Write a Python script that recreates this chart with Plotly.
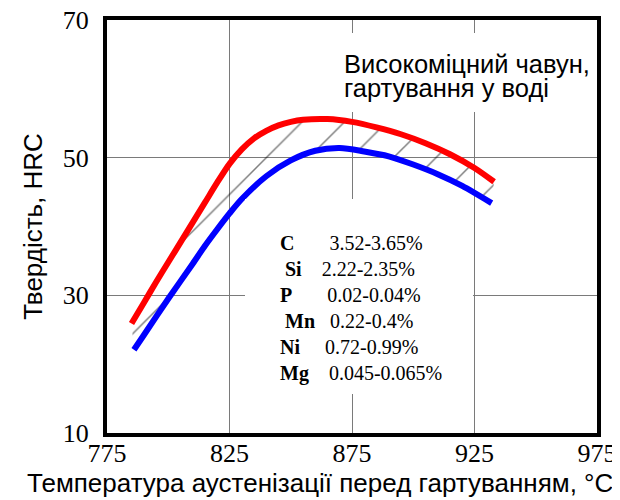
import plotly.graph_objects as go

# Upper curve (red) and lower curve (blue): hardness HRC vs austenitizing temperature, °C
temp_red = [785, 790, 795, 800, 805, 810, 815, 820, 825, 830, 835, 840, 845, 850, 855, 865, 875, 885, 895, 905, 915, 925, 933]
hrc_red = [25.9, 28.9, 31.9, 34.8, 37.7, 40.6, 43.5, 46.4, 49.1, 51.2, 52.8, 53.9, 54.7, 55.2, 55.5, 55.6, 55.2, 54.4, 53.4, 52.1, 50.5, 48.5, 46.5]

temp_blue = [786, 790, 800, 810, 815, 820, 825, 830, 840, 850, 860, 870, 880, 890, 900, 910, 920, 932]
hrc_blue = [22.1, 24.2, 29.5, 34.6, 37.2, 39.6, 41.9, 44.0, 47.3, 49.6, 51.0, 51.4, 50.9, 50.2, 49.0, 47.6, 45.9, 43.4]

x_ticks = [775, 825, 875, 925, 975]
y_ticks = [10, 30, 50, 70]

title_lines = ["Високоміцний чавун,", "гартування у воді"]
x_title = "Температура аустенізації перед гартуванням, °C"
y_title = "Твердість, HRC"
elements = ["C", "Si", "P", "Mn", "Ni", "Mg"]
ranges = ["3.52-3.65%", "2.22-2.35%", "0.02-0.04%", "0.22-0.4%", "0.72-0.99%", "0.045-0.065%"]
label_pre = [0, 1, 0, 1, 0, 0]
label_gap = [7, 4, 7, 3, 5, 4]

NB = "\u00a0"
serif = "Liberation Serif"
sans = "Liberation Sans"

fig = go.Figure()
fig.add_trace(go.Scatter(x=temp_blue, y=hrc_blue, mode="lines",
                         line=dict(color="#0000ff", width=6, shape="spline", smoothing=0.8),
                         hoverinfo="skip"))
fig.add_trace(go.Scatter(x=temp_red, y=hrc_red, mode="lines",
                         line=dict(color="#ff0000", width=6, shape="spline", smoothing=0.8),
                         fill="tonexty", fillcolor="rgba(0,0,0,0)",
                         fillpattern=dict(shape="/", size=30, solidity=0.05,
                                          fgcolor="#000000", bgcolor="rgba(0,0,0,0)"),
                         hoverinfo="skip"))

comp_text = "<br>".join(
    NB * p + "<b>" + e + "</b>" + NB * g + r
    for e, r, p, g in zip(elements, ranges, label_pre, label_gap)
)

annotations = [
    # white boxes that hide the grid behind the texts
    dict(x=0.7337, y=0.8729, xref="paper", yref="paper", text=NB, showarrow=False,
         xanchor="center", yanchor="middle",
         width=252, height=79, bgcolor="white", borderpad=0, borderwidth=0),
    dict(x=0.5153, y=0.3293, xref="paper", yref="paper", text=NB, showarrow=False,
         xanchor="center", yanchor="middle",
         width=228, height=195, bgcolor="white", borderpad=0, borderwidth=0),
    dict(x=871.1, y=63.6, xref="x", yref="y", text=title_lines[0], showarrow=False,
         xanchor="left", yanchor="middle", font=dict(family=sans, size=25.5, color="black")),
    dict(x=871.1, y=60.1, xref="x", yref="y", text=title_lines[1], showarrow=False,
         xanchor="left", yanchor="middle", font=dict(family=sans, size=25.5, color="black")),
    dict(x=844.7, y=28.1, xref="x", yref="y", text=comp_text, showarrow=False,
         xanchor="left", yanchor="middle", align="left",
         font=dict(family=serif, size=20, color="black")),
    dict(x=0.4357, y=-0.121, xref="paper", yref="paper", text=x_title, showarrow=False,
         xanchor="center", yanchor="middle", font=dict(family=sans, size=26, color="black")),
]

fig.update_layout(
    width=620, height=500,
    margin=dict(l=99, r=31, t=12, b=75, autoexpand=False),
    paper_bgcolor="white", plot_bgcolor="white",
    showlegend=False,
    annotations=annotations,
    xaxis=dict(range=[775, 975], tickvals=x_ticks, ticktext=[str(v) for v in x_ticks],
               showgrid=True, gridcolor="#7a7a7a", gridwidth=1,
               showline=True, linecolor="black", linewidth=4, mirror=True,
               ticks="", ticklabelstandoff=-6, zeroline=False, automargin=False,
               ticklabeloverflow="allow",
               tickfont=dict(family=serif, size=26, color="black")),
    yaxis=dict(range=[10, 70], tickvals=y_ticks, ticktext=[str(v) for v in y_ticks],
               showgrid=True, gridcolor="#7a7a7a", gridwidth=1,
               showline=True, linecolor="black", linewidth=4, mirror=True,
               ticks="", ticklabelstandoff=9, zeroline=False, automargin=False,
               ticklabeloverflow="allow",
               tickfont=dict(family=serif, size=26, color="black"),
               title=dict(text=y_title,
                          font=dict(family=sans, size=26, color="black"), standoff=14)),
)

fig.write_html("out.html")
